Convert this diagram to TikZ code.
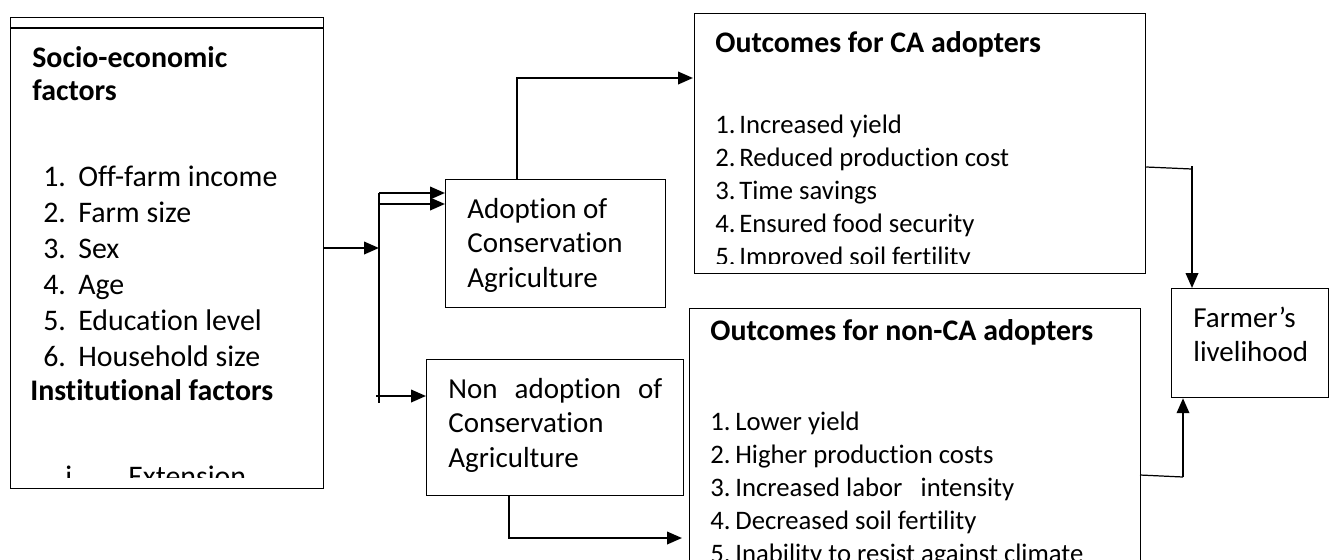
\documentclass[tikz,border=0pt]{standalone}
\usepackage{fontspec}
\setmainfont[Ligatures={NoCommon}]{Carlito}
\usetikzlibrary{arrows.meta,calc}

\def\pxu{0.02cm}
\tikzset{
  box/.style={draw, line width=0.7pt, inner sep=0pt, anchor=north west},
  txt/.style={anchor=base west, inner sep=0pt},
  smalltxt/.style={txt, font=\fontsize{15.2}{18}\selectfont},
  midtxt/.style={txt, font=\fontsize{16.5}{20}\selectfont},
  thinline/.style={line width=0.7pt},
  line/.style={line width=1.3pt},
  arr/.style={line, -{Triangle[length=0.3cm, width=0.25cm]}}
}

\begin{document}
\begin{tikzpicture}[x=0.02cm, y=-0.02cm, font=\fontsize{17}{20}\selectfont]
  \clip (0,0) rectangle (1329,559);

  % boxes
  \node[box, minimum width=313*\pxu, minimum height=471*\pxu] (socio) at (10,17) {};
  \draw[thinline] ($(socio.north west)+(0,11)$) -- ($(socio.north east)+(0,11)$);
  \node[box, minimum width=220*\pxu, minimum height=128*\pxu] (adopt) at (445,179) {};
  \node[box, minimum width=257*\pxu, minimum height=136*\pxu] (nonadopt) at (426,359) {};
  \node[box, minimum width=451*\pxu, minimum height=260*\pxu] (caout) at (694,13) {};
  \node[box, minimum width=451*\pxu, minimum height=300*\pxu] (ncaout) at (689,308) {};
  \node[box, minimum width=157*\pxu, minimum height=109*\pxu] (farmer) at (1171,288) {};

  % socio-economic and institutional factors
  \node[txt] (sehead) at (32,67) {\textbf{Socio-economic}};
  \node[txt] (sehead2) at (32,100) {\textbf{factors}};
  \foreach \n/\t [count=\i from 0] in {1/Off-farm income, 2/Farm size, 3/Sex,
      4/Age, 5/Education level, 6/Household size}
    \node[txt] (se\n) at (43,186+36*\i) {\makebox[0.7cm][l]{\n.}\t};
  \node[txt] (insthead) at (30,400) {\textbf{Institutional factors}};
  \begin{scope}
    \clip (socio.north west) rectangle (323,477);
    \node[txt] (inst1) at (65,486) {\makebox[1.26cm][l]{i.}Extension};
  \end{scope}

  % adoption boxes
  \node[midtxt] (ad1) at (467,218) {Adoption of};
  \node[midtxt] (ad2) at (467,252) {Conservation};
  \node[midtxt] (ad3) at (467,287) {Agriculture};
  \node[midtxt] (na1) at (448,398) {\makebox[4.28cm][s]{Non adoption of}};
  \node[midtxt] (na2) at (448,432) {Conservation};
  \node[midtxt] (na3) at (448,467) {Agriculture};

  % outcomes
  \node[txt] (cahead) at (715,52) {\textbf{Outcomes for CA adopters}};
  \begin{scope}
    \clip (caout.north west) rectangle (1145,263);
    \foreach \n/\t [count=\i from 0] in {1/Increased yield, 2/Reduced production cost,
        3/Time savings, 4/Ensured food security, 5/Improved soil fertility}
      \node[smalltxt] (ca\n) at (715,133+33*\i) {\makebox[0.48cm][l]{\n.}\t};
  \end{scope}
  \node[txt] (ncahead) at (710,340) {\textbf{Outcomes for non-CA adopters}};
  \foreach \n/\t [count=\i from 0] in {1/Lower yield, 2/Higher production costs,
      3/Increased labor\ \ \ intensity, 4/Decreased soil fertility,
      5/Inability to resist against climate}
    \node[smalltxt] (nca\n) at (710,430+33*\i) {\makebox[0.5cm][l]{\n.}\t};

  \node[midtxt] (fa1) at (1193,327) {Farmer’s};
  \node[midtxt] (fa2) at (1193,361) {livelihood};

  % connectors
  \coordinate (bus) at (379,248);
  \coordinate (bustop) at (379,193);
  \coordinate (bus2) at (379,204);
  \coordinate (busbot) at (379,403);
  \coordinate (nonin) at (376,396);
  \draw[arr] (socio.east |- bus) -- (bus);
  \draw[line] (bustop) -- (busbot);
  \draw[arr] (bustop) -- (bustop -| adopt.west);
  \draw[arr] (bus2) -- (bus2 -| adopt.west);
  \draw[arr] (nonin) -- (nonin -| nonadopt.west);
  \draw[arr] ($(adopt.north west)+(72,0)$) |- ($(caout.north west)+(-1,65)$);
  \draw[arr] ($(nonadopt.south west)+(83,0)$) |- ($(ncaout.north west)+(-7,230)$);

  \coordinate (cajog) at (1192,169);
  \coordinate (ncajog) at (1183,477);
  \draw[thinline] ($(caout.north east)+(0,154)$) -- (cajog);
  \draw[arr] ($(cajog)+(0,-3)$) -- (farmer.north west -| cajog);
  \draw[thinline] ($(ncaout.north west)+(451,167)$) -- (ncajog);
  \draw[arr] (ncajog) -- (farmer.south west -| ncajog);
\end{tikzpicture}
\end{document}
